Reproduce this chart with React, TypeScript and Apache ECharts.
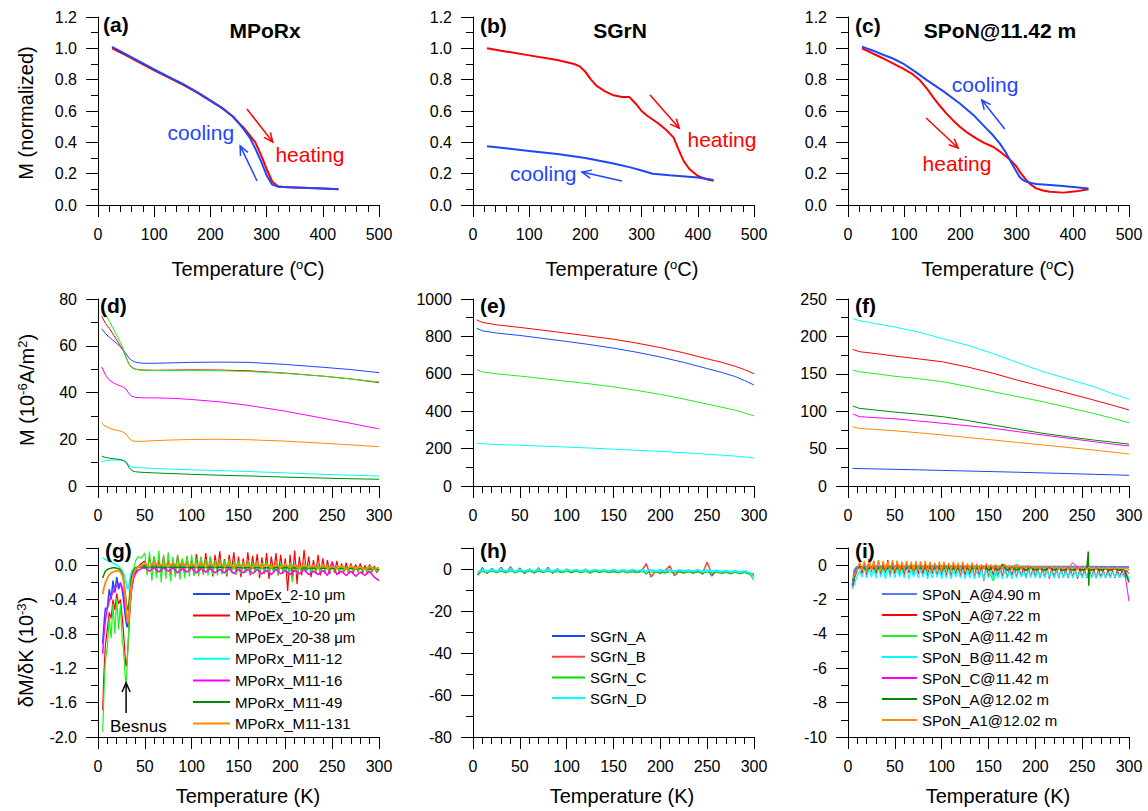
import React, { useEffect, useRef } from "react";
import * as echarts from "echarts";

const FONT = "'Liberation Sans', Arial, Helvetica, sans-serif";
const BLUE = "#1f45ff";
const RED = "#ff0000";
const GREEN = "#22ee22";
const CYAN = "#00ffff";
const MAGENTA = "#ff00ff";
const DKGREEN = "#008a00";
const ORANGE = "#ff8c00";

// ---------- Row 1: normalized M vs temperature (°C) ----------
const aHeatT = [25, 50, 75, 100, 125, 150, 175, 200, 220, 240, 250, 260, 270, 280, 290, 300, 310, 320, 330, 350, 400, 428];
const aHeatM = [1.0, 0.955, 0.908, 0.86, 0.815, 0.77, 0.72, 0.665, 0.62, 0.565, 0.525, 0.49, 0.445, 0.4, 0.32, 0.23, 0.15, 0.12, 0.115, 0.112, 0.105, 0.1];
const aCoolT = [25, 50, 75, 100, 125, 150, 175, 200, 220, 240, 250, 260, 270, 280, 290, 300, 310, 320, 330, 350, 400, 428];
const aCoolM = [1.01, 0.962, 0.913, 0.865, 0.82, 0.775, 0.724, 0.668, 0.622, 0.565, 0.525, 0.48, 0.43, 0.36, 0.28, 0.19, 0.13, 0.117, 0.115, 0.112, 0.105, 0.1];

const bHeatT = [25, 50, 100, 150, 180, 190, 200, 210, 220, 235, 250, 265, 278, 290, 300, 310, 330, 345, 357, 365, 375, 385, 400, 415, 428];
const bHeatM = [1.0, 0.985, 0.955, 0.925, 0.9, 0.885, 0.85, 0.8, 0.76, 0.725, 0.7, 0.69, 0.69, 0.645, 0.6, 0.57, 0.52, 0.475, 0.43, 0.36, 0.28, 0.23, 0.185, 0.165, 0.155];
const bCoolT = [25, 50, 100, 150, 200, 250, 280, 300, 320, 350, 400, 428];
const bCoolM = [0.375, 0.365, 0.345, 0.325, 0.3, 0.265, 0.24, 0.22, 0.2, 0.19, 0.175, 0.16];

const cHeatT = [25, 60, 98, 115, 127, 140, 151, 163, 175, 187, 199, 213, 228, 243, 258, 270, 282, 291, 300, 308, 317, 326, 335, 347, 359, 383, 406, 428];
const cHeatM = [1.0, 0.94, 0.87, 0.835, 0.8, 0.745, 0.69, 0.635, 0.585, 0.54, 0.5, 0.46, 0.425, 0.395, 0.372, 0.342, 0.308, 0.28, 0.244, 0.2, 0.16, 0.128, 0.106, 0.093, 0.085, 0.079, 0.087, 0.1];
const cCoolT = [25, 45, 60, 80, 98, 120, 139, 170, 199, 223, 246, 258, 270, 280, 288, 297, 305, 311, 317, 326, 335, 377, 428];
const cCoolM = [1.01, 0.985, 0.962, 0.935, 0.903, 0.85, 0.8, 0.725, 0.648, 0.575, 0.489, 0.445, 0.393, 0.34, 0.287, 0.23, 0.18, 0.16, 0.149, 0.14, 0.134, 0.123, 0.106];

// ---------- Row 2: M (10^-6 A/m^2) vs T (K) ----------
const dT = [4, 8, 12, 16, 20, 24, 27, 30, 33, 36, 40, 45, 50, 60, 80, 100, 130, 160, 200, 240, 270, 300];
const dBlue = [67.3, 65.2, 63.7, 62.3, 61.0, 59.5, 58.2, 56.5, 54.8, 53.7, 53.0, 52.6, 52.5, 52.5, 52.7, 52.9, 53.0, 52.9, 52.0, 50.8, 49.8, 48.5];
const dRed = [72.6, 69.5, 67.5, 65.0, 62.5, 60.0, 58.0, 55.0, 52.2, 50.8, 50.0, 49.7, 49.6, 49.5, 49.6, 49.7, 49.6, 49.3, 48.3, 47.0, 45.8, 44.2];
const dGreen = [77.0, 73.5, 70.5, 67.5, 64.5, 61.5, 58.5, 55.0, 52.2, 50.6, 49.9, 49.6, 49.5, 49.4, 49.4, 49.5, 49.3, 49.0, 48.2, 47.0, 45.8, 44.5];
const dMag = [51.0, 47.5, 45.4, 44.2, 43.4, 42.8, 42.3, 41.5, 39.5, 38.4, 37.9, 37.8, 37.7, 37.7, 37.5, 37.0, 36.0, 34.5, 32.0, 29.0, 26.8, 24.4];
const dOrange = [27.0, 25.5, 24.8, 24.2, 23.8, 23.5, 23.0, 22.3, 20.5, 19.4, 19.1, 19.1, 19.2, 19.4, 19.7, 19.9, 20.0, 19.8, 19.2, 18.3, 17.6, 16.8];
const dCyan = [10.4, 10.8, 11.0, 11.1, 11.1, 11.0, 10.8, 10.2, 8.8, 8.1, 7.9, 7.8, 7.7, 7.5, 7.2, 6.9, 6.6, 6.2, 5.6, 5.0, 4.6, 4.3];
const dDkGreen = [12.8, 12.2, 11.9, 11.7, 11.5, 11.3, 11.0, 10.2, 8.0, 6.6, 6.1, 5.9, 5.8, 5.6, 5.3, 5.0, 4.6, 4.3, 3.8, 3.4, 3.1, 2.9];

const eT = [4, 10, 25, 50, 75, 100, 125, 150, 175, 200, 225, 250, 265, 280, 290, 300];
const eRed = [888, 875, 862, 848, 833, 817, 801, 785, 764, 740, 712, 680, 662, 640, 622, 600];
const eBlue = [843, 830, 818, 805, 789, 773, 756, 737, 715, 690, 661, 628, 608, 585, 564, 540];
const eGreen = [622, 610, 600, 588, 574, 560, 546, 530, 511, 490, 465, 438, 422, 405, 391, 375];
const eCyan = [228, 226, 222, 218, 213, 208, 203, 197, 191, 185, 178, 170, 165, 160, 155, 150];

const fT = [5, 12, 30, 48, 75, 101, 128, 155, 181, 208, 235, 262, 281, 300];
const fCyan = [224, 221, 217, 213, 206, 197, 188, 177, 165, 153, 143, 133, 124, 116];
const fRed = [182.7, 179.6, 177, 174, 170, 166, 159, 150.6, 141.5, 132.8, 124, 115, 108.5, 101.6];
const fGreen = [155, 152.8, 150, 147, 143.5, 139.5, 133, 126, 119.5, 112.7, 105, 97, 91, 84.7];
const fDkGreen = [107, 103.8, 101.5, 99, 96, 92.7, 87.5, 81.5, 76, 70.4, 65.8, 61.5, 58.8, 56];
const fMag = [96.3, 92.7, 91.3, 90, 87, 83.8, 80.5, 77.1, 72.7, 68.2, 63.8, 59.3, 56.3, 53.5];
const fOrange = [79.3, 77.1, 75.5, 74, 71.2, 68.2, 64.8, 61.5, 58.2, 54.8, 51.5, 48.1, 45.5, 42.8];
const fBlue = [23.6, 23.3, 22.8, 22.3, 21.6, 20.8, 20, 19.2, 18.4, 17.5, 16.6, 15.6, 15, 14.3];

// ---------- Row 3: dM/dK ----------
const gNames = ["MpoEx_2-10 \u03bcm", "MPoEx_10-20 \u03bcm", "MPoEx_20-38 \u03bcm", "MPoRx_M11-12", "MPoRx_M11-16", "MPoRx_M11-49", "MPoRx_M11-131"];
// sampling grids of the measurements (K)
const TG_LOW = [5, 6, 7, 8, 10, 12, 14, 16, 18, 20, 22, 24, 26, 27, 28, 29, 30, 31, 32, 33, 34, 35, 36, 38, 40, 43, 46];
const TG_HIGH = Array.from({ length: 51 }, (_, i) => 50 + 5 * i);
const TG_FINE = Array.from({ length: 101 }, (_, i) => 50 + 2.5 * i);

const gBlueLow = [-0.91, -0.75, -0.6, -0.5, -0.5, -0.28, -0.4, -0.18, -0.32, -0.14, -0.28, -0.2, -0.3, -0.38, -0.48, -0.58, -0.66, -0.72, -0.7, -0.58, -0.45, -0.33, -0.23, -0.12, -0.06, -0.02, -0.01];
const gBlueHigh = [0.0, -0.03, 0.02, -0.03, 0.02, -0.03, 0.02, -0.03, 0.02, -0.03, 0.02, -0.03, 0.02, -0.03, 0.01, -0.03, 0.02, -0.03, 0.01, -0.03, 0.01, -0.03, 0.01, -0.03, 0.01, -0.03, 0.01, -0.03, 0.0, -0.03, 0.0, -0.04, 0.01, -0.03, 0.0, -0.04, 0.0, -0.04, 0.0, -0.04, 0.0, -0.04, -0.01, -0.05, -0.01, -0.05, -0.01, -0.05, -0.01, -0.05, -0.03];
const gRedLow = [-1.69, -1.35, -1.1, -0.92, -0.74, -0.55, -0.62, -0.4, -0.52, -0.33, -0.45, -0.4, -0.62, -0.75, -0.9, -1.08, -1.18, -1.1, -0.95, -0.75, -0.55, -0.4, -0.28, -0.15, -0.08, -0.02, 0.02];
const gRedFine = [
  0.05, -0.07, 0.09, -0.04, 0.1, -0.1, 0.06, -0.08, 0.11, -0.06,
  0.08, -0.12, 0.04, -0.09, 0.12, -0.05, 0.07, -0.1, 0.1, -0.08,
  0.06, -0.12, 0.13, -0.06, 0.09, -0.11, 0.14, -0.07, 0.1, -0.13,
  0.12, -0.08, 0.16, -0.1, 0.07, -0.13, 0.12, -0.06, 0.15, -0.11,
  0.1, -0.14, 0.08, -0.09, 0.15, -0.12, 0.11, -0.07, 0.13, -0.15,
  0.09, -0.1, 0.14, -0.16, 0.1, -0.08, 0.14, -0.12, 0.12, -0.1,
  0.08, -0.3, 0.12, -0.14, 0.17, -0.22, 0.1, -0.12, 0.18, -0.09,
  0.1, -0.14, 0.06, -0.1, 0.12, -0.12, 0.08, -0.09, 0.06, -0.1,
  0.04, -0.09, 0.05, -0.1, 0.02, -0.08, 0.03, -0.1, 0.02, -0.09,
  0.01, -0.08, 0.02, -0.09, 0.0, -0.1, 0.01, -0.08, -0.01, -0.09,
  -0.05,
];
const gGreenLow = [-1.94, -1.6, -1.3, -1.1, -0.95, -0.6, -0.85, -0.45, -0.8, -0.38, -0.75, -0.45, -0.9, -0.95, -1.1, -1.3, -1.38, -1.2, -0.95, -0.7, -0.5, -0.35, -0.22, -0.05, 0.05, 0.1, 0.08];
const gGreenFine = [
  0.14, -0.12, 0.16, -0.18, 0.1, -0.15, 0.17, -0.2, 0.12, -0.16,
  0.15, -0.19, 0.1, -0.14, 0.12, -0.17, 0.08, -0.15, 0.11, -0.13,
  0.12, -0.12, 0.08, -0.13, 0.1, -0.1, 0.07, -0.12, 0.09, -0.11,
  0.06, -0.12, 0.08, -0.1, 0.05, -0.11, 0.07, -0.09, 0.05, -0.11,
  0.05, -0.1, 0.04, -0.09, 0.06, -0.1, 0.03, -0.09, 0.04, -0.1,
  0.03, -0.09, 0.04, -0.1, 0.02, -0.09, 0.03, -0.11, 0.02, -0.09,
  0.02, -0.12, 0.03, -0.2, 0.02, -0.1, 0.01, -0.09, 0.02, -0.08,
  0.01, -0.09, 0.0, -0.08, 0.01, -0.08, 0.0, -0.07, 0.01, -0.08,
  -0.01, -0.07, 0.0, -0.08, -0.01, -0.07, -0.02, -0.08, -0.01, -0.07,
  -0.02, -0.08, -0.02, -0.07, -0.03, -0.08, -0.02, -0.07, -0.03, -0.08,
  -0.04,
];
const gCyanLow = [0.086, 0.08, 0.07, 0.065, 0.055, 0.045, 0.035, 0.025, 0.012, 0.0, -0.015, -0.035, -0.07, -0.09, -0.12, -0.16, -0.21, -0.26, -0.28, -0.24, -0.17, -0.11, -0.07, -0.04, -0.03, -0.025, -0.02];
const gCyanHighT = [50, 100, 150, 200, 250, 300];
const gCyanHigh = [-0.02, -0.02, -0.025, -0.03, -0.035, -0.04];
const gMagLow = [-1.03, -0.85, -0.74, -0.64, -0.5, -0.42, -0.36, -0.31, -0.27, -0.24, -0.22, -0.22, -0.26, -0.31, -0.38, -0.46, -0.55, -0.62, -0.66, -0.6, -0.48, -0.36, -0.26, -0.15, -0.1, -0.06, -0.04];
const gMagHigh = [-0.03, -0.07, -0.03, -0.08, -0.03, -0.07, -0.03, -0.09, -0.04, -0.08, -0.03, -0.09, -0.04, -0.08, -0.04, -0.09, -0.05, -0.09, -0.04, -0.1, -0.05, -0.09, -0.05, -0.1, -0.05, -0.1, -0.06, -0.11, -0.05, -0.1, -0.06, -0.11, -0.06, -0.1, -0.05, -0.11, -0.07, -0.11, -0.06, -0.12, 0.04, -0.11, -0.07, -0.12, -0.07, -0.13, -0.08, -0.12, -0.07, -0.14, -0.18];
const gDkGreenLow = [-0.15, -0.12, -0.09, -0.07, -0.05, -0.04, -0.035, -0.03, -0.03, -0.035, -0.04, -0.06, -0.1, -0.15, -0.22, -0.32, -0.42, -0.5, -0.52, -0.45, -0.32, -0.2, -0.12, -0.06, -0.03, -0.02, -0.02];
const gDkGreenHighT = [50, 80, 120, 160, 200, 240, 280, 300];
const gDkGreenHigh = [-0.02, -0.025, -0.02, -0.03, -0.03, -0.035, -0.04, -0.05];
const gOrangeLow = [-0.34, -0.28, -0.24, -0.2, -0.15, -0.11, -0.09, -0.08, -0.07, -0.065, -0.065, -0.08, -0.12, -0.17, -0.25, -0.35, -0.48, -0.6, -0.67, -0.6, -0.45, -0.3, -0.2, -0.1, -0.05, -0.02, -0.01];
const gOrangeHigh = [0.02, -0.02, 0.03, -0.01, 0.02, -0.02, 0.03, -0.01, 0.03, -0.02, 0.02, -0.02, 0.03, -0.02, 0.02, -0.02, 0.03, -0.02, 0.02, -0.03, 0.02, -0.02, 0.01, -0.03, 0.02, -0.03, 0.01, -0.03, 0.01, -0.03, 0.01, -0.03, 0.0, -0.04, 0.01, -0.03, 0.0, -0.04, 0.0, -0.04, -0.01, -0.04, -0.01, -0.05, -0.01, -0.04, -0.02, -0.05, -0.02, -0.05, -0.03];

const hNames = ["SGrN_A", "SGrN_B", "SGrN_C", "SGrN_D"];
const T5 = Array.from({ length: 60 }, (_, i) => 5 + 5 * i);
const T25 = Array.from({ length: 119 }, (_, i) => 5 + 2.5 * i);
const hBlue = [-2.5, 0.8, -2.2, 0.5, -1.8, 0.9, -2.0, 1.2, -1.9, 0.6, -2.4, 0.2, -1.6, 0.7, -1.9, 0.9, -2.2, 0.3, -1.7, 0.1, -1.5, -0.2, -1.8, 0.0, -1.6, -0.3, -1.7, -0.1, -1.5, -0.4, -1.9, -0.2, -1.6, -0.5, -1.8, -0.3, -2.5, -0.4, -1.7, -0.6, -2.0, -0.5, -1.8, -0.7, -1.9, -0.6, -2.1, -0.8, -2.6, -0.3, -3.5, -0.9, -2.2, -1.0, -2.4, -1.1, -2.3, -1.3, -2.5, -3.2];
const hRed = [-3.0, -0.5, -2.0, -0.3, -1.7, -0.4, -1.6, -0.2, -1.8, -0.5, -1.5, -0.3, -1.9, -0.6, -1.4, -0.4, -1.7, -0.6, -1.5, -0.5, -1.8, -0.7, -1.6, -0.5, -1.9, -0.8, -1.5, -0.6, -1.7, -0.9, -1.6, -0.7, -1.8, -0.8, -1.6, -0.9, 2.5, -3.8, -1.0, -2.2, -0.8, 1.5, -3.2, -1.0, -2.0, -0.9, -1.8, -1.2, -2.0, 3.2, -2.5, -1.2, -2.1, -1.4, -2.0, -1.3, -2.2, -1.5, -2.1, -2.4];
const hGreen = [-2.2, -1.2, -1.8, -1.1, -1.7, -1.2, -1.8, -1.0, -1.6, -1.2, -1.7, -1.1, -1.8, -1.2, -1.6, -1.1, -1.7, -1.3, -1.8, -1.2, -1.6, -1.2, -1.7, -1.3, -1.8, -1.2, -1.6, -1.3, -1.7, -1.4, -1.8, -1.3, -1.7, -1.4, -1.8, -1.3, -1.9, -1.4, -1.7, -1.5, -1.9, -1.4, -1.8, -1.5, -1.9, -1.5, -2.0, -1.5, -1.9, -1.6, -2.0, -1.6, -2.1, -1.7, -2.3, -1.6, -2.2, -1.8, -2.2, -5.5];
const hCyan = [-1.5, -0.3, -1.2, -0.2, -1.1, -0.3, -1.0, -0.2, -1.2, -0.4, -1.0, -0.3, -1.1, -0.2, -1.0, -0.4, -1.1, -0.3, -1.0, -0.4, -0.9, -0.3, -1.0, -0.4, -1.1, -0.3, -0.9, -0.4, -1.0, -0.3, -1.0, -0.4, -1.1, -0.3, -0.9, -0.5, -1.0, -0.4, -1.1, -0.5, -1.0, -0.4, -1.2, -0.5, -1.0, -0.6, -1.1, -0.5, -1.2, -0.6, -1.2, -0.7, -1.3, -0.8, -1.4, -0.9, -1.5, -1.0, -1.6, -4.0];

const iNames = ["SPoN_A@4.90 m", "SPoN_A@7.22 m", "SPoN_A@11.42 m", "SPoN_B@11.42 m", "SPoN_C@11.42 m", "SPoN_A@12.02 m", "SPoN_A1@12.02 m"];
const iBlueT = [5, 7, 10, 50, 100, 150, 200, 250, 300];
const iBlue = [-1.2, -0.3, -0.1, -0.08, -0.08, -0.09, -0.1, -0.1, -0.12];
const iRed = [
  -1.3, -0.7, -0.3, 0.1, -0.5, 0.2, -0.6, 0.35, -0.4, 0.25,
  -0.5, 0.3, -0.6, 0.15, -0.45, 0.3, -0.6, 0.2, -0.5, 0.25,
  -0.55, 0.15, -0.6, 0.2, -0.45, 0.1, -0.6, 0.15, -0.5, 0.2,
  -0.55, 0.1, -0.6, 0.15, -0.5, 0.1, -0.65, 0.05, -0.55, 0.1,
  -0.6, 0.1, -0.7, 0.0, -0.5, 0.05, -0.65, 0.05, -0.6, 0.0,
  -0.55, 0.05, -0.7, 0.0, -0.6, -0.05, -0.9, 0.0, -0.65, -0.05,
  -0.6, 0.0, -0.7, -0.05, -0.65, 0.0, -0.75, -0.1, -0.6, -0.05,
  -0.7, -0.1, -0.65, -0.1, -0.75, -0.1, -0.7, -0.15, -0.65, -0.1,
  -0.75, -0.15, -0.7, -0.1, -0.8, -0.15, -0.7, -0.15, -0.75, -0.2,
  -0.7, -0.15, -0.75, -0.2, -0.7, -0.15, -0.8, -0.2, -0.7, -0.2,
  -0.75, -0.2, -0.7, -0.25, -0.75, -0.2, -0.7, -0.25, -0.75, -0.25,
  -0.7, -0.3, -0.75, -0.25, -0.7, -0.3, -0.7, -0.3,
  -0.5,
];
const iGreen = [-1.0, -0.2, -0.08, -0.25, -0.08, -0.25, -0.1, -0.25, -0.08, -0.25, -0.1, -0.25, -0.1, -0.25, -0.08, -0.25, -0.1, -0.3, -0.1, -0.25, -0.1, -0.3, -0.1, -0.25, -0.1, -0.3, -0.1, -0.25, -0.1, -0.3, -0.9, -0.25, -0.12, -0.3, -0.15, 0.05, -0.12, -0.3, -0.15, -0.25, -0.15, -0.3, -0.15, -0.25, -0.15, -0.3, -0.2, -0.3, -0.2, -0.25, -0.2, -0.3, -0.2, -0.25, -0.2, -0.3, -0.22, -0.3, -0.22, -0.9];
const iCyan = [
  -1.4, -1.0, -0.6, -0.3, -0.7, -0.2, -0.75, -0.15, -0.7, -0.2,
  -0.75, -0.15, -0.7, -0.2, -0.8, -0.15, -0.7, -0.2, -0.75, -0.15,
  -0.7, -0.2, -0.75, -0.15, -0.8, -0.2, -0.7, -0.2, -0.75, -0.25,
  -0.7, -0.2, -0.8, -0.25, -0.75, -0.2, -0.7, -0.25, -0.8, -0.2,
  -0.75, -0.25, -0.8, -0.2, -0.7, -0.25, -0.75, -0.3, -0.8, -0.25,
  -0.75, -0.25, -0.8, -0.3, -0.75, -0.25, -0.85, -0.3, -0.75, -0.3,
  -0.8, -0.3, -0.75, -0.3, -0.8, -0.25, -0.75, -0.3, -0.8, -0.3,
  -0.75, -0.3, -0.7, -0.35, -0.75, -0.3, -0.7, -0.35, -0.75, -0.3,
  -0.7, -0.35, -0.75, -0.3, -0.7, -0.35, -0.75, -0.35, -0.7, -0.35,
  -0.75, -0.35, -0.7, -0.4, -0.75, -0.35, -0.7, -0.4, -0.75, -0.4,
  -0.7, -0.4, -0.75, -0.4, -0.7, -0.45, -0.75, -0.4, -0.7, -0.45,
  -0.75, -0.4, -0.7, -0.45, -0.75, -0.45, -0.7, -0.45,
  -0.8,
];
const iMag = [-0.9, -0.2, -0.12, -0.22, -0.12, -0.22, -0.12, -0.2, -0.12, -0.22, -0.12, -0.22, -0.12, -0.2, -0.12, -0.22, -0.15, -0.22, -0.12, -0.22, -0.15, -0.22, -0.12, -0.25, -0.15, -0.22, -0.15, -0.25, -0.15, -0.22, -0.15, -0.25, -0.15, -0.22, -0.18, -0.25, -0.15, -0.25, -0.18, -0.25, -0.18, -0.25, -0.15, -0.25, -0.18, -0.28, -0.18, 0.15, -0.12, -0.25, -0.18, -0.28, -0.18, -0.25, -0.2, -0.28, -0.2, -0.25, -0.25, -2.1];
const iDkGreen = [-0.9, -0.15, -0.08, -0.28, -0.1, -0.28, -0.08, -0.28, -0.1, -0.25, -0.1, -0.28, -0.08, -0.25, -0.1, -0.28, -0.1, -0.25, -0.1, -0.28, -0.1, -0.25, -0.15, -0.28, -0.1, -0.28, -0.15, -0.25, -0.1, -0.28, -0.15, -0.28, 0.05, -0.3, -0.15, -0.28, -0.15, -0.3, -0.15, -0.28, -0.2, -0.3, -0.15, -0.28, -0.2, -0.3, -0.2, -0.28, -0.2, -0.3, -0.2, -0.28, -0.22, -0.3, -0.22, -0.28, -0.22, -0.3, -0.25, -1.0];
const iDkGreenSpikeT = [256.5, 257, 257.5];
const iDkGreenSpike = [0.8, -1.2, -0.3];
const iOrange = [
  -0.8, -0.5, -0.2, 0.2, -0.3, 0.25, -0.3, 0.3, -0.35, 0.2,
  -0.3, 0.3, -0.35, 0.25, -0.3, 0.2, -0.35, 0.3, -0.3, 0.25,
  -0.35, 0.2, -0.3, 0.25, -0.3, 0.2, -0.35, 0.25, -0.3, 0.2,
  -0.3, 0.25, -0.35, 0.2, -0.3, 0.15, -0.3, 0.2, -0.35, 0.2,
  -0.3, 0.15, -0.3, 0.2, -0.3, 0.15, -0.35, 0.2, -0.3, 0.1,
  -0.3, 0.15, -0.25, 0.1, -0.3, 0.05, -0.25, 0.1, -0.2, 0.05,
  -0.25, 0.05, -0.2, 0.0, -0.25, 0.05, -0.2, 0.0, -0.25, 0.0,
  -0.2, 0.0, -0.25, -0.05, -0.2, 0.0, -0.25, -0.05, -0.2, -0.05,
  -0.25, -0.05, -0.2, -0.05, -0.25, -0.05, -0.2, -0.1, -0.25, -0.05,
  -0.2, -0.1, -0.25, -0.05, -0.2, -0.1, -0.25, -0.1, -0.2, -0.1,
  -0.25, -0.1, -0.2, -0.1, -0.25, -0.1, -0.2, -0.15, -0.25, -0.1,
  -0.2, -0.15, -0.25, -0.1, -0.2, -0.15, -0.25, -0.15,
  -0.3,
];

// ---------- annotations (data coordinates) ----------
const arrowNotes = [
  { p: 0, color: RED, from: [265, 0.613], to: [311, 0.402] },
  { p: 0, color: BLUE, from: [283, 0.153], to: [253, 0.377] },
  { p: 1, color: RED, from: [315, 0.702], to: [367, 0.49] },
  { p: 1, color: BLUE, from: [265, 0.153], to: [194, 0.21] },
  { p: 2, color: BLUE, from: [279, 0.485], to: [238, 0.67] },
  { p: 2, color: RED, from: [139, 0.555], to: [196, 0.364] },
  { p: 6, color: "#000000", from: [30, -1.72], to: [30, -1.37] },
];
const textNotes = [
  { p: 0, color: BLUE, text: "cooling", at: [183, 0.46], size: 21 },
  { p: 0, color: RED, text: "heating", at: [377, 0.32], size: 21 },
  { p: 1, color: RED, text: "heating", at: [443, 0.42], size: 21 },
  { p: 1, color: BLUE, text: "cooling", at: [125, 0.204], size: 21 },
  { p: 2, color: BLUE, text: "cooling", at: [244, 0.772], size: 21 },
  { p: 2, color: RED, text: "heating", at: [194, 0.268], size: 21 },
  { p: 6, color: "#000000", text: "Besnus", at: [43, -1.88], size: 17 },
];

const zip = (xs: number[], ys: number[]) => {
  const n = Math.min(xs.length, ys.length);
  const out: number[][] = [];
  for (let i = 0; i < n; i++) out.push([xs[i], ys[i]]);
  return out;
};

const COL_L = [98, 473, 848];
const COL_W = 281;
const ROW_T = [17, 299, 548];
const ROW_H = [188, 187, 189];

function mkLine(name: string, p: number, data: number[][], color: string, width: number) {
  return {
    type: "line",
    name,
    xAxisIndex: p,
    yAxisIndex: p,
    data,
    symbol: "none",
    showSymbol: false,
    lineStyle: { color, width },
    itemStyle: { color },
    emphasis: { disabled: true },
    animation: false,
  };
}

export default function App() {
  const ref = useRef<HTMLDivElement>(null);

  useEffect(() => {
    if (!ref.current) return;
    const chart = echarts.init(ref.current, null, { renderer: "svg" });

    const grids: any[] = [];
    for (let r = 0; r < 3; r++)
      for (let c = 0; c < 3; c++)
        grids.push({ left: COL_L[c], top: ROW_T[r], width: COL_W, height: ROW_H[r], containLabel: false });

    const axisCommon = {
      type: "value",
      axisLine: { show: true, onZero: false, lineStyle: { color: "#000", width: 1 } },
      axisTick: { show: true, length: 12, inside: false, lineStyle: { color: "#000", width: 1 } },
      splitLine: { show: false },
      minorSplitLine: { show: false },
    };
    const labelStyle = { color: "#000", fontSize: 16, fontFamily: FONT };

    const xAxes: any[] = [];
    for (let p = 0; p < 9; p++) {
      const row1 = p < 3;
      xAxes.push({
        ...axisCommon,
        gridIndex: p,
        min: 0,
        max: row1 ? 500 : 300,
        interval: row1 ? 100 : 50,
        minorTick: { show: true, splitNumber: 5, length: 7, lineStyle: { color: "#000", width: 1 } },
        axisLabel: { ...labelStyle, margin: 21 },
      });
    }

    const ySpecs = [
      { min: 0, max: 1.2, interval: 0.2, fmt: (v: number) => v.toFixed(1) },
      { min: 0, max: 1.2, interval: 0.2, fmt: (v: number) => v.toFixed(1) },
      { min: 0, max: 1.2, interval: 0.2, fmt: (v: number) => v.toFixed(1) },
      { min: 0, max: 80, interval: 20, fmt: (v: number) => String(Math.round(v)) },
      { min: 0, max: 1000, interval: 200, fmt: (v: number) => String(Math.round(v)) },
      { min: 0, max: 250, interval: 50, fmt: (v: number) => String(Math.round(v)) },
      { min: -2, max: 0.2, interval: 0.4, fmt: (v: number) => (v > 0.01 ? "" : Math.abs(v) < 1e-6 ? "0.0" : v.toFixed(1)) },
      { min: -80, max: 10, interval: 20, fmt: (v: number) => (v > 0.01 ? "" : String(Math.round(v))) },
      { min: -10, max: 1, interval: 2, fmt: (v: number) => (v > 0.01 ? "" : String(Math.round(v))) },
    ];
    const yAxes = ySpecs.map((s, p) => ({
      ...axisCommon,
      gridIndex: p,
      min: s.min,
      max: s.max,
      interval: s.interval,
      minorTick: { show: true, splitNumber: 2, length: 7, lineStyle: { color: "#000", width: 1 } },
      axisLabel: { ...labelStyle, margin: 21, formatter: s.fmt },
    }));

    const series: any[] = [
      mkLine("a heating", 0, zip(aHeatT, aHeatM), RED, 2),
      mkLine("a cooling", 0, zip(aCoolT, aCoolM), BLUE, 2),
      mkLine("b heating", 1, zip(bHeatT, bHeatM), RED, 2),
      mkLine("b cooling", 1, zip(bCoolT, bCoolM), BLUE, 2),
      mkLine("c heating", 2, zip(cHeatT, cHeatM), RED, 2),
      mkLine("c cooling", 2, zip(cCoolT, cCoolM), BLUE, 2),
      mkLine("d1", 3, zip(dT, dBlue), BLUE, 1),
      mkLine("d2", 3, zip(dT, dRed), RED, 1),
      mkLine("d3", 3, zip(dT, dGreen), GREEN, 1),
      mkLine("d4", 3, zip(dT, dCyan), CYAN, 1),
      mkLine("d5", 3, zip(dT, dMag), MAGENTA, 1),
      mkLine("d6", 3, zip(dT, dDkGreen), DKGREEN, 1),
      mkLine("d7", 3, zip(dT, dOrange), ORANGE, 1),
      mkLine("e1", 4, zip(eT, eBlue), BLUE, 1),
      mkLine("e2", 4, zip(eT, eRed), RED, 1),
      mkLine("e3", 4, zip(eT, eGreen), GREEN, 1),
      mkLine("e4", 4, zip(eT, eCyan), CYAN, 1),
      mkLine("f1", 5, zip(fT, fBlue), BLUE, 1),
      mkLine("f2", 5, zip(fT, fRed), RED, 1),
      mkLine("f3", 5, zip(fT, fGreen), GREEN, 1),
      mkLine("f4", 5, zip(fT, fCyan), CYAN, 1),
      mkLine("f5", 5, zip(fT, fMag), MAGENTA, 1),
      mkLine("f6", 5, zip(fT, fDkGreen), DKGREEN, 1),
      mkLine("f7", 5, zip(fT, fOrange), ORANGE, 1),
      mkLine(gNames[0], 6, zip(TG_LOW, gBlueLow).concat(zip(TG_HIGH, gBlueHigh)), BLUE, 1.5),
      mkLine(gNames[1], 6, zip(TG_LOW, gRedLow).concat(zip(TG_FINE, gRedFine)), RED, 1.2),
      mkLine(gNames[2], 6, zip(TG_LOW, gGreenLow).concat(zip(TG_FINE, gGreenFine)), GREEN, 1.2),
      mkLine(gNames[3], 6, zip(TG_LOW, gCyanLow).concat(zip(gCyanHighT, gCyanHigh)), CYAN, 1.5),
      mkLine(gNames[4], 6, zip(TG_LOW, gMagLow).concat(zip(TG_HIGH, gMagHigh)), MAGENTA, 1.5),
      mkLine(gNames[5], 6, zip(TG_LOW, gDkGreenLow).concat(zip(gDkGreenHighT, gDkGreenHigh)), DKGREEN, 1.5),
      mkLine(gNames[6], 6, zip(TG_LOW, gOrangeLow).concat(zip(TG_HIGH, gOrangeHigh)), ORANGE, 1.8),
      mkLine(hNames[0], 7, zip(T5, hBlue), BLUE, 1),
      mkLine(hNames[1], 7, zip(T5, hRed), "#ff4040", 1.5),
      mkLine(hNames[2], 7, zip(T5, hGreen), "#00dd00", 1),
      mkLine(hNames[3], 7, zip(T5, hCyan), CYAN, 2),
      mkLine(iNames[0], 8, zip(iBlueT, iBlue), "#5a78ff", 2.5),
      mkLine(iNames[1], 8, zip(T25, iRed), RED, 1),
      mkLine(iNames[2], 8, zip(T5, iGreen), GREEN, 1.2),
      mkLine(iNames[3], 8, zip(T25, iCyan), CYAN, 1.2),
      mkLine(iNames[4], 8, zip(T5, iMag), MAGENTA, 1),
      mkLine(iNames[5], 8, zip(T5, iDkGreen).concat(zip(iDkGreenSpikeT, iDkGreenSpike)).sort((a, b) => a[0] - b[0]), DKGREEN, 1.5),
      mkLine(iNames[6], 8, zip(T25, iOrange), ORANGE, 1.2),
    ];

    const legendCommon = {
      orient: "vertical",
      selectedMode: false,
      padding: 0,
      icon: "rect",
      itemHeight: 2,
      textStyle: { fontSize: 15, fontFamily: FONT, color: "#000", lineHeight: 16 },
    };

    chart.setOption({
      animation: false,
      backgroundColor: "#ffffff",
      grid: grids,
      xAxis: xAxes,
      yAxis: yAxes,
      legend: [
        { ...legendCommon, left: 193, top: 586, itemWidth: 37, itemGap: 5.6, data: gNames },
        { ...legendCommon, left: 552, top: 628, itemWidth: 33, itemGap: 4.7, data: hNames },
        { ...legendCommon, left: 882, top: 586, itemWidth: 35, itemGap: 5.0, data: iNames },
      ],
      series,
    });

    const g: any[] = [];
    const panelLabels: [string, number, number][] = [
      ["(a)", 103, 24], ["(b)", 480, 25], ["(c)", 855, 25],
      ["(d)", 100, 305], ["(e)", 480, 305], ["(f)", 855, 305],
      ["(g)", 105, 550], ["(h)", 480, 550], ["(i)", 855, 550],
    ];
    panelLabels.forEach(([t, x, y]) =>
      g.push({ type: "text", x, y, z: 100, style: { text: t, fontSize: 21, fontWeight: "bold", fontFamily: FONT, fill: "#000", align: "left", verticalAlign: "middle" } })
    );
    const titles: [string, number, number][] = [["MPoRx", 265, 30], ["SGrN", 620, 30], ["SPoN@11.42 m", 1000, 30]];
    titles.forEach(([t, x, y]) =>
      g.push({ type: "text", x, y, z: 100, style: { text: t, fontSize: 21, fontWeight: "bold", fontFamily: FONT, fill: "#000", align: "center", verticalAlign: "middle" } })
    );
    const sup = { sup: { fontSize: 13, fontFamily: FONT, fill: "#000", verticalAlign: "top", lineHeight: 8 } };
    const titleStyle = (text: string) => ({ text, fontSize: 20, fontFamily: FONT, fill: "#000", align: "center", verticalAlign: "middle", lineHeight: 22, rich: sup });
    [248, 622, 998].forEach((x) => {
      g.push({ type: "text", x, y: 269, z: 100, style: titleStyle("Temperature ({sup|o}C)") });
      g.push({ type: "text", x, y: 796, z: 100, style: titleStyle("Temperature (K)") });
    });
    g.push({ type: "text", x: 26, y: 113, rotation: Math.PI / 2, z: 100, style: titleStyle("M (normalized)") });
    g.push({ type: "text", x: 27, y: 390, rotation: Math.PI / 2, z: 100, style: titleStyle("M (10{sup|-6}A/m{sup|2})") });
    g.push({ type: "text", x: 26, y: 652, rotation: Math.PI / 2, z: 100, style: titleStyle("\u03b4M/\u03b4K (10{sup|-3})") });

    arrowNotes.forEach((a) => {
      const s = chart.convertToPixel({ gridIndex: a.p } as any, a.from) as number[];
      const t = chart.convertToPixel({ gridIndex: a.p } as any, a.to) as number[];
      const dx = t[0] - s[0];
      const dy = t[1] - s[1];
      const len = Math.sqrt(dx * dx + dy * dy) || 1;
      const ux = dx / len;
      const uy = dy / len;
      const L = 10;
      const ang = (24 * Math.PI) / 180;
      const rot = (c: number) => {
        const cs = Math.cos(c);
        const sn = Math.sin(c);
        return [t[0] - L * (ux * cs - uy * sn), t[1] - L * (ux * sn + uy * cs)];
      };
      g.push({ type: "line", z: 100, shape: { x1: s[0], y1: s[1], x2: t[0], y2: t[1] }, style: { stroke: a.color, lineWidth: 1.5 } });
      g.push({ type: "polyline", z: 100, shape: { points: [rot(ang), t, rot(-ang)] }, style: { stroke: a.color, lineWidth: 1.5, fill: null } });
    });
    textNotes.forEach((n) => {
      const pt = chart.convertToPixel({ gridIndex: n.p } as any, n.at) as number[];
      g.push({ type: "text", x: pt[0], y: pt[1], z: 100, style: { text: n.text, fontSize: n.size, fontFamily: FONT, fill: n.color, align: "center", verticalAlign: "middle" } });
    });

    chart.setOption({ graphic: g });

    return () => {
      chart.dispose();
    };
  }, []);

  return <div ref={ref} style={{ position: "absolute", left: 0, top: 0, width: 1148, height: 811 }} />;
}
